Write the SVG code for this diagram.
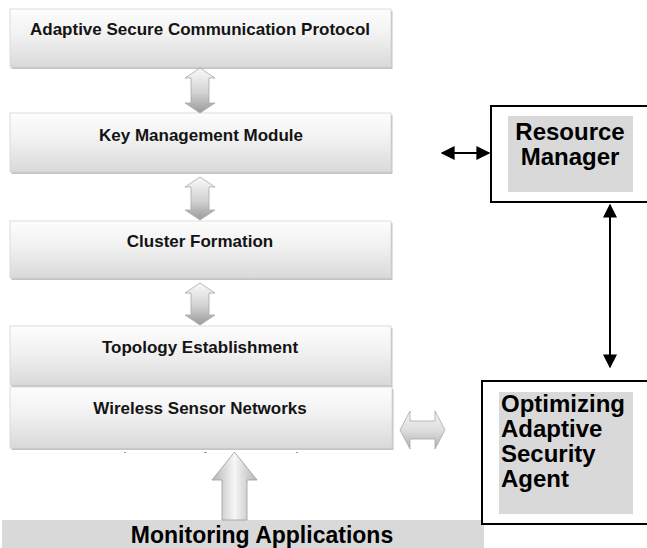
<svg xmlns="http://www.w3.org/2000/svg" width="647" height="548" viewBox="0 0 647 548">
  <style>
    .layer-shadow { fill: #c4c4c4; }
    .layer { fill: url(#layerFill); stroke: #d4d4d4; stroke-width: 0.8; }
    .layer-text { font-family: "Liberation Sans", Arial, sans-serif; font-weight: bold; font-size: 17px; fill: #141414; text-anchor: middle; }
    .block-v { fill: url(#blockV); stroke: #a8a8a8; stroke-width: 0.8; }
    .block-h { fill: url(#blockH); stroke: #a8a8a8; stroke-width: 0.8; }
    .block-up { fill: url(#blockUp); stroke: #9c9c9c; stroke-width: 0.8; }
    .frame { fill: #ffffff; stroke: #000000; stroke-width: 2; }
    .panel { fill: #d9d9d9; }
    .label { font-family: "Liberation Sans", Arial, sans-serif; font-weight: bold; font-size: 24px; fill: #000000; }
    .link { stroke: #000000; stroke-width: 2; fill: none; }
    .tick { stroke: #9a9a9a; stroke-width: 1; }
  </style>
  <defs>
    <linearGradient id="layerFill" x1="0" y1="0" x2="0" y2="1">
      <stop offset="0" stop-color="#fdfdfd"/>
      <stop offset="0.45" stop-color="#f1f1f1"/>
      <stop offset="1" stop-color="#d9d9d9"/>
    </linearGradient>
    <linearGradient id="blockV" x1="0" y1="0" x2="0" y2="1">
      <stop offset="0" stop-color="#fafafa"/>
      <stop offset="0.55" stop-color="#d2d2d2"/>
      <stop offset="1" stop-color="#9a9a9a"/>
    </linearGradient>
    <linearGradient id="blockH" x1="0" y1="0" x2="0" y2="1">
      <stop offset="0" stop-color="#f4f4f4"/>
      <stop offset="0.5" stop-color="#dedede"/>
      <stop offset="1" stop-color="#b0b0b0"/>
    </linearGradient>
    <linearGradient id="blockUp" x1="0" y1="0" x2="1" y2="0">
      <stop offset="0" stop-color="#b4b4b4"/>
      <stop offset="0.5" stop-color="#f6f6f6"/>
      <stop offset="1" stop-color="#b4b4b4"/>
    </linearGradient>
    <marker id="head" viewBox="0 0 10 10" refX="9" refY="5" markerWidth="14" markerHeight="14" orient="auto-start-reverse" markerUnits="userSpaceOnUse">
      <path d="M0,0 L10,5 L0,10 Z" fill="#000000"/>
    </marker>
  </defs>

  <!-- protocol stack -->
  <g id="layer-protocol">
    <rect class="layer-shadow" x="11.5" y="11" width="381" height="58"/>
    <rect class="layer" x="10" y="9" width="381" height="58"/>
    <text class="layer-text" x="200" y="35">Adaptive Secure Communication Protocol</text>
  </g>
  <g id="layer-key">
    <rect class="layer-shadow" x="11.5" y="115" width="381" height="59"/>
    <rect class="layer" x="10" y="113" width="381" height="59"/>
    <text class="layer-text" x="201" y="141">Key Management Module</text>
  </g>
  <g id="layer-cluster">
    <rect class="layer-shadow" x="11.5" y="223" width="381" height="57"/>
    <rect class="layer" x="10" y="221" width="381" height="57"/>
    <text class="layer-text" x="200" y="247">Cluster Formation</text>
  </g>
  <g id="layer-topology">
    <rect class="layer-shadow" x="11.5" y="328" width="381" height="59"/>
    <rect class="layer" x="10" y="326" width="381" height="59"/>
    <text class="layer-text" x="200" y="353">Topology Establishment</text>
  </g>
  <g id="layer-wsn">
    <rect class="layer-shadow" x="11.5" y="389" width="382" height="61"/>
    <rect class="layer" x="10" y="387" width="382" height="61"/>
    <text class="layer-text" x="200" y="414">Wireless Sensor Networks</text>
    <line class="tick" x1="124" y1="452.5" x2="126" y2="452.5"/>
    <line class="tick" x1="204" y1="452.5" x2="207" y2="452.5"/>
    <line class="tick" x1="296" y1="452.5" x2="298" y2="452.5"/>
  </g>

  <!-- monitoring bar -->
  <g id="monitoring">
    <rect class="panel" x="2" y="520" width="482" height="28"/>
    <text class="label" x="262" y="543" text-anchor="middle" style="font-size:23px">Monitoring Applications</text>
  </g>

  <!-- agent boxes -->
  <g id="resource-manager">
    <rect class="frame" x="491" y="106" width="170" height="96"/>
    <rect class="panel" x="508" y="116" width="125" height="76"/>
    <text class="label" x="570" y="140" text-anchor="middle">Resource</text>
    <text class="label" x="570" y="165" text-anchor="middle">Manager</text>
  </g>
  <g id="security-agent">
    <rect class="frame" x="482" y="381" width="180" height="143"/>
    <rect class="panel" x="499" y="392" width="134" height="122"/>
    <text class="label" x="501" y="412">Optimizing</text>
    <text class="label" x="501" y="437">Adaptive</text>
    <text class="label" x="501" y="462">Security</text>
    <text class="label" x="501" y="487">Agent</text>
  </g>

  <!-- connectors -->
  <g id="connectors">
    <path class="block-v" d="M200,68 L215,78 L209,78 L209,103 L215,103 L200,113 L185,103 L191,103 L191,78 L185,78 Z"/>
    <path class="block-v" d="M200,177 L215,187 L209,187 L209,210 L215,210 L200,220 L185,210 L191,210 L191,187 L185,187 Z"/>
    <path class="block-v" d="M200,283 L215,293 L209,293 L209,315 L215,315 L200,325 L185,315 L191,315 L191,293 L185,293 Z"/>
    <path class="block-h" d="M400,430 L410,411 L410,421 L435,421 L435,411 L445,430 L435,449 L435,439 L410,439 L410,449 Z"/>
    <path class="block-up" d="M234.5,452 L257,480 L247,480 L247,520 L222,520 L222,480 L212,480 Z"/>
    <line class="link" x1="442" y1="153" x2="489" y2="153" marker-start="url(#head)" marker-end="url(#head)"/>
    <line class="link" x1="610" y1="205" x2="610" y2="367" marker-start="url(#head)" marker-end="url(#head)"/>
  </g>
</svg>
